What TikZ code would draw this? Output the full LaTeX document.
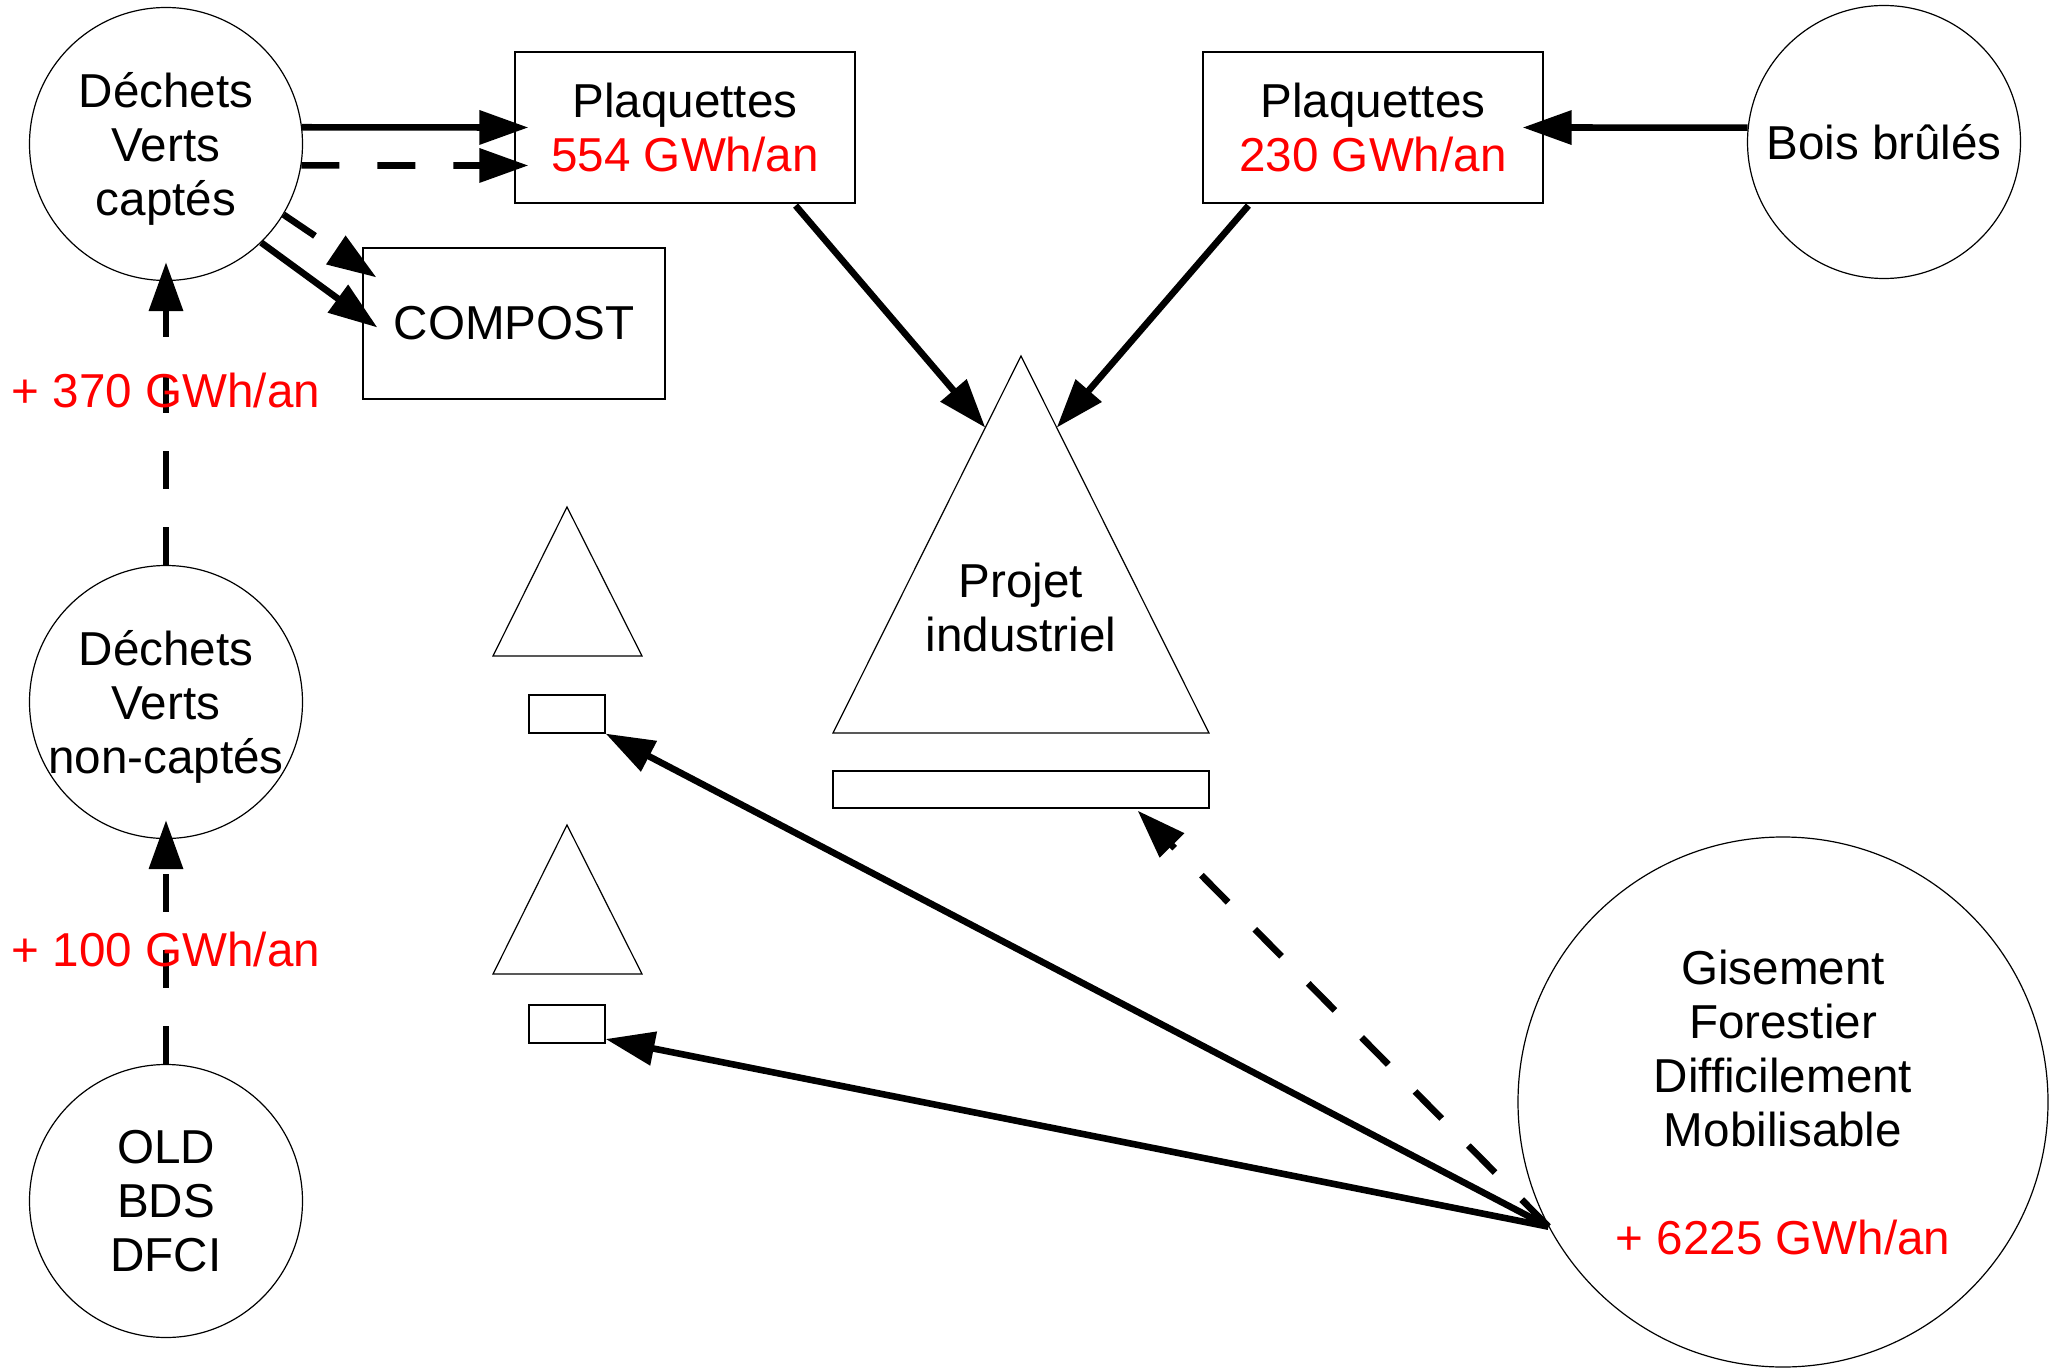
\documentclass[tikz,border=0pt]{standalone}
\usepackage{fontspec}
\setmainfont{Liberation Sans}
\usetikzlibrary{arrows.meta,calc}
\begin{document}
\begin{tikzpicture}[x=0.5pt,y=-0.5pt,
  every node/.style={font=\fontsize{23.8}{27}\selectfont, align=center},
  circ/.style={draw, circle, line width=0.6pt, minimum size=136.5pt, inner sep=-12pt},
  box/.style={draw, rectangle, line width=0.6pt, inner sep=0pt},
  shp/.style={draw, line width=0.6pt},
  arr/.style={line width=3.3pt, -{Triangle[length=24.5pt,width=16.5pt]}},
  darr/.style={arr, dash pattern=on 19pt off 19pt},
  lbl/.style={text=red},
]
\useasboundingbox (0,0) rectangle (2050,1369);

% circles
\node[circ, text depth=0pt] (A) at (166,144) {Déchets\\Verts\\captés};
\node[circ, text depth=0pt] (B) at (166,702) {Déchets\\Verts\\non-captés};
\node[circ] (C) at (166,1201) {OLD\\BDS\\DFCI};
\node[circ] (D) at (1884,142) {Bois brûlés};
\node[circ, minimum size=265pt] (E) at (1783,1102) {Gisement\\Forestier\\Difficilement\\Mobilisable\\[27pt]\textcolor{red}{+ 6225 GWh/an}};

% boxes
\node[box, minimum width=170pt, minimum height=75.5pt] (P1) at (685,127.5) {Plaquettes\\\textcolor{red}{554 GWh/an}};
\node[box, minimum width=170pt, minimum height=75.5pt] (P2) at (1373,127.5) {Plaquettes\\\textcolor{red}{230 GWh/an}};
\node[box, minimum width=151pt, minimum height=75.5pt] (K) at (514,323.5) {COMPOST};
\node[box, minimum width=38pt, minimum height=19pt] (R1) at (567,714) {};
\node[box, minimum width=38pt, minimum height=19pt] (R2) at (567,1024) {};
\node[box, minimum width=188pt, minimum height=18.5pt] (BAR) at (1021,789.5) {};

% triangles
\coordinate (T1a) at (1021,356);
\coordinate (T1l) at (833,733);
\coordinate (T1r) at (1209,733);
\draw[shp] (T1a) -- (T1l) -- (T1r) -- cycle;
\node (PI) at (1021,607) {Projet\\industriel};
\coordinate (T2a) at (567,507);
\coordinate (T2l) at (493,656);
\coordinate (T2r) at (642,656);
\draw[shp] (T2a) -- (T2l) -- (T2r) -- cycle;
\coordinate (T3a) at (567,825);
\coordinate (T3l) at (493,974);
\coordinate (T3r) at (642,974);
\draw[shp] (T3a) -- (T3l) -- (T3r) -- cycle;

% arrows
\draw[arr] (A.7) -- ($(P1.west)+(14,0)$);
\draw[darr] (A.-9) -- ($(P1.west)+(14,38)$);
\draw[darr] (A.-31) -- ($(K.north west)+(14,30)$);
\draw[arr] (A.-46) -- ($(K.west)+(15,4)$);
\draw[darr] (B.north) -- node[pos=0.576, lbl]{+ 370 GWh/an} ($(A.south)+(0,-19)$);
\draw[darr] (C.north) -- node[pos=0.47, lbl]{+ 100 GWh/an} ($(B.south)+(0,-19)$);
\draw[arr] ($(P1.south east)+(-60,2)$) -- ($(T1a)!0.19!(T1l)$);
\draw[arr] ($(P2.south west)+(46,2)$) -- ($(T1a)!0.19!(T1r)$);
\draw[arr] (D.174) -- ($(P2.east)+(-21,0)$);
\draw[arr] (E.208) -- (R1.south east);
\draw[arr] (E.208) -- ($(R2.east)+(0,15)$);
\draw[darr] (E.208) -- ($(BAR.south east)+(-72,2)$);
\end{tikzpicture}
\end{document}
